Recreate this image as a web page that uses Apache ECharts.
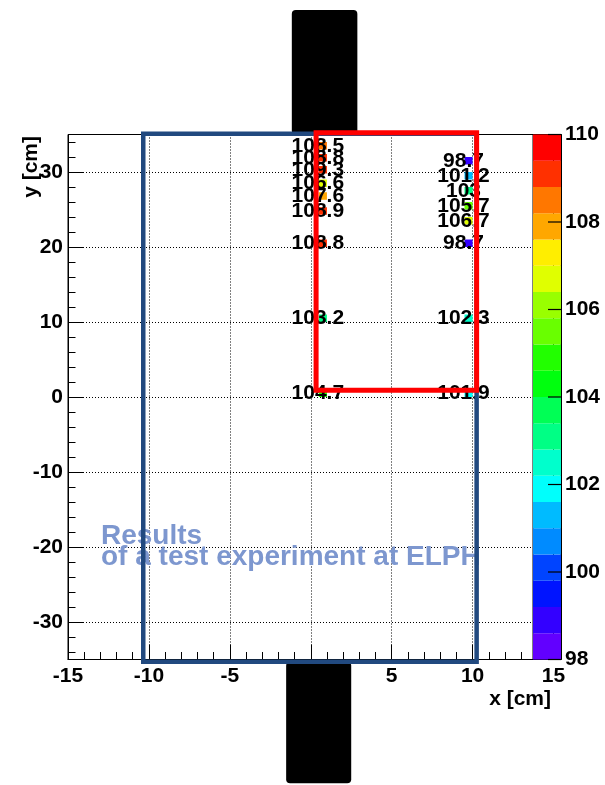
<!DOCTYPE html>
<html><head><meta charset="utf-8">
<script src="https://cdn.jsdelivr.net/npm/echarts@6/dist/echarts.min.js"></script>
<style>html,body{margin:0;padding:0;background:#fff;} #c{width:605px;height:785px;}</style>
</head><body><div id="c"></div>
<script>
const FONT = '"Liberation Sans", Arial, Helvetica, sans-serif';

// ---- data (cm / measured values) ----
const leftColX = 0.5;                       // left edge of 0.5 cm bin
const leftRowY = [33.5, 31.9, 30.3, 28.5, 26.8, 24.8, 20.5, 10.5, 0.5];
const leftValues = [108.5, 108.8, 109.3, 106.6, 107.6, 108.9, 108.8, 103.2, 104.7];
const rightColX = 9.5;
const rightRowY = [31.5, 29.5, 27.5, 25.5, 23.5, 20.5, 10.5, 0.5];
const rightValues = [98.7, 101.2, 103.0, 105.7, 106.7, 98.7, 102.3, 101.9];

const xTicks = [-15, -10, -5, 0, 5, 10, 15];
const yMajorTicks = [-30, -20, -10, 0, 10, 20, 30];
const yMinorTicks = [-34, -32, -30, -28, -26, -24, -22, -20, -18, -16, -14, -12, -10, -8, -6, -4, -2, 0,
                     2, 4, 6, 8, 10, 12, 14, 16, 18, 20, 22, 24, 26, 28, 30, 32, 34];
const paletteTicks = [98, 100, 102, 104, 106, 108, 110];
const contourEdges = [98, 98.6, 99.2, 99.8, 100.4, 101, 101.6, 102.2, 102.8, 103.4, 104,
                      104.6, 105.2, 105.8, 106.4, 107, 107.6, 108.2, 108.8, 109.4, 110];
const paletteColors = ['#6200ff', '#3300ff', '#0014ff', '#0044ff', '#008bff', '#00bbff', '#00fffc',
                       '#00ffcc', '#00ff85', '#00ff55', '#00ff0e', '#22ff00', '#69ff00', '#99ff00',
                       '#e0ff00', '#ffee00', '#ffa700', '#ff7700', '#ff3000', '#ff0000'];

// regions drawn on the plot, in cm: [x0, x1, y0, y1]
const blueBox = [-10.35, 10.25, -35.3, 35.1];
const redBox = [0.33, 10.25, 0.9, 35.25];
const topBlock = [-1.17, 2.88, 35.0, 51.6];
const bottomBlock = [-1.52, 2.5, -51.5, -35.3];

// ---- build ----
function colorFor(v) {
  for (let j = 0; j < paletteColors.length; j++) {
    if (v >= contourEdges[j] && v < contourEdges[j + 1]) return paletteColors[j];
  }
  return paletteColors[paletteColors.length - 1];
}
function fmt(v) { return String(Number(v.toFixed(1))); }

const cells = [];
leftRowY.forEach((y, i) => cells.push([leftColX, y, leftValues[i]]));
rightRowY.forEach((y, i) => cells.push([rightColX, y, rightValues[i]]));

const bands = [];
for (let j = 0; j < paletteColors.length; j++) bands.push([contourEdges[j], contourEdges[j + 1], j]);
const lastBand = paletteColors.length - 1;

function rectRender(style, r) {
  return function (params, api) {
    const p0 = api.coord([api.value(0), api.value(2)]);
    const p1 = api.coord([api.value(1), api.value(3)]);
    return {
      type: 'rect',
      shape: { x: Math.min(p0[0], p1[0]), y: Math.min(p0[1], p1[1]),
               width: Math.abs(p1[0] - p0[0]), height: Math.abs(p1[1] - p0[1]), r: r || 0 },
      style: style
    };
  };
}

const chart = echarts.init(document.getElementById('c'), null, { renderer: 'canvas' });
const boldLabel = { color: '#000', fontSize: 21, fontWeight: 'bold', fontFamily: FONT };

chart.setOption({
  animation: false,
  backgroundColor: '#fff',
  grid: [
    { left: 68, right: 51.5, top: 134.5, bottom: 125.5, show: true, borderColor: '#000', borderWidth: 1,
      backgroundColor: 'transparent', containLabel: false, outerBoundsMode: 'none' },
    { left: 533, width: 28, top: 134.5, bottom: 125.5, show: true, borderColor: '#000', borderWidth: 1,
      backgroundColor: 'transparent', containLabel: false, outerBoundsMode: 'none' }
  ],
  xAxis: [
    { gridIndex: 0, type: 'value', min: xTicks[0], max: xTicks[xTicks.length - 1], interval: 5,
      axisLine: { show: true, onZero: false, lineStyle: { color: '#000', width: 1 } },
      axisTick: { show: true, inside: true, length: 15, lineStyle: { color: '#000', width: 1 } },
      minorTick: { show: true, splitNumber: 5, length: 7.5, lineStyle: { color: '#000', width: 1 } },
      axisLabel: Object.assign({ margin: 6 }, boldLabel),
      splitLine: { show: true, lineStyle: { color: '#000', type: [1, 2], width: 1 } },
      minorSplitLine: { show: false } },
    { gridIndex: 1, type: 'value', min: 0, max: 1, show: false }
  ],
  yAxis: [
    { gridIndex: 0, type: 'value', min: -35, max: 35, splitNumber: 7,
      axisLine: { show: true, onZero: false, lineStyle: { color: '#000', width: 1 } },
      axisTick: { show: true, inside: true, length: 15, customValues: yMajorTicks, lineStyle: { color: '#000', width: 1 } },
      axisLabel: Object.assign({ margin: 5, customValues: yMajorTicks }, boldLabel),
      splitLine: { show: true, lineStyle: { color: '#000', type: [1, 2], width: 1 } } },
    { gridIndex: 0, type: 'value', min: -35, max: 35, position: 'left', offset: 0,
      axisLine: { show: false, onZero: false },
      axisTick: { show: true, inside: true, length: 7.5, customValues: yMinorTicks, lineStyle: { color: '#000', width: 1 } },
      axisLabel: { show: false }, splitLine: { show: false } },
    { gridIndex: 1, type: 'value', min: paletteTicks[0], max: paletteTicks[paletteTicks.length - 1], interval: 2,
      position: 'right',
      axisLine: { show: true, onZero: false, lineStyle: { color: '#000', width: 1 } },
      axisTick: { show: false },
      axisLabel: Object.assign({ margin: 4 }, boldLabel),
      splitLine: { show: false } }
  ],
  graphic: [
    { type: 'text', x: 101, y: 536, z: 1,
      style: { text: 'Results', fill: '#7d97cf', font: 'bold 28px ' + FONT, align: 'left', verticalAlign: 'middle' } },
    { type: 'text', x: 101, y: 557, z: 1,
      style: { text: 'of a test experiment at ELPH', fill: '#7d97cf', font: 'bold 28px ' + FONT, align: 'left', verticalAlign: 'middle' } },
    { type: 'text', x: 551, y: 699, z: 10,
      style: { text: 'x [cm]', fill: '#000', font: 'bold 21px ' + FONT, align: 'right', verticalAlign: 'middle' } },
    { type: 'text', x: 31, y: 136, rotation: Math.PI / 2, z: 10,
      style: { text: 'y [cm]', fill: '#000', font: 'bold 21px ' + FONT, align: 'right', verticalAlign: 'middle' } }
  ],
  series: [
    { type: 'custom', name: 'blocks', xAxisIndex: 0, yAxisIndex: 0, z: 1, clip: false,
      data: [topBlock, bottomBlock],
      renderItem: rectRender({ fill: '#000' }, 4) },
    { type: 'custom', name: 'cells', xAxisIndex: 0, yAxisIndex: 0, z: 2, clip: false,
      data: cells,
      renderItem: function (params, api) {
        const x = api.value(0), y = api.value(1), v = api.value(2);
        const p0 = api.coord([x, y + 0.5]);
        const p1 = api.coord([x + 0.5, y - 0.5]);
        return { type: 'rect', shape: { x: p0[0], y: p0[1], width: p1[0] - p0[0], height: p1[1] - p0[1] },
                 style: { fill: colorFor(v) } };
      } },
    { type: 'custom', name: 'labels', xAxisIndex: 0, yAxisIndex: 0, z: 3, clip: false,
      data: cells,
      renderItem: function (params, api) {
        const p = api.coord([api.value(0), api.value(1)]);
        return { type: 'text', x: p[0] - 1, y: p[1],
                 style: { text: fmt(api.value(2)), fill: '#000', font: 'bold 21px ' + FONT,
                          align: 'center', verticalAlign: 'middle' } };
      } },
    { type: 'custom', name: 'blueBox', xAxisIndex: 0, yAxisIndex: 0, z: 4, clip: false,
      data: [blueBox],
      renderItem: rectRender({ fill: 'none', stroke: '#21497f', lineWidth: 4.5 }) },
    { type: 'custom', name: 'redBox', xAxisIndex: 0, yAxisIndex: 0, z: 5, clip: false,
      data: [redBox],
      renderItem: rectRender({ fill: 'none', stroke: '#ff0000', lineWidth: 5 }) },
    { type: 'custom', name: 'palette', xAxisIndex: 1, yAxisIndex: 2, z: 6, clip: false,
      data: bands,
      renderItem: function (params, api) {
        const lo = api.value(0), hi = api.value(1), j = api.value(2);
        const p0 = api.coord([0, hi]);
        const p1 = api.coord([1, lo]);
        const children = [{ type: 'rect', shape: { x: p0[0], y: p0[1], width: p1[0] - p0[0], height: p1[1] - p0[1] },
                            style: { fill: paletteColors[j] } }];
        paletteTicks.forEach(function (t) {
          if ((t >= lo && t < hi) || (j === lastBand && t === hi)) {
            const pt = api.coord([1, t]);
            children.push({ type: 'rect', shape: { x: pt[0] - 13, y: pt[1] - 0.6, width: 13, height: 1.2 },
                            style: { fill: '#000' } });
          }
        });
        return { type: 'group', children: children };
      } }
  ]
});
</script>
</body></html>
